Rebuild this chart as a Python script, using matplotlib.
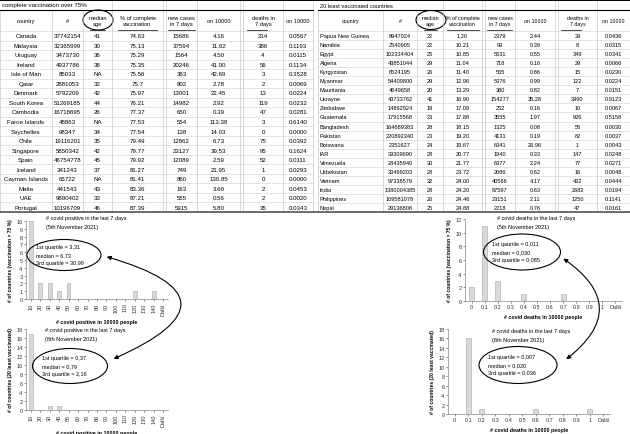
import numpy as np
import matplotlib
matplotlib.use('Agg')
import matplotlib.pyplot as plt
from matplotlib.patches import Ellipse, FancyArrowPatch

plt.rcParams['font.family'] = ['Liberation Sans', 'DejaVu Sans']

W, H = 630, 435

##############  table 1 : complete vaccination over 75%  ##############
vacc_country = ['Canada', 'Malaysia', 'Uruguay', 'Ireland', 'Isle of Man', 'Qatar', 'Denmark',
                'South Korea', 'Cambodia', 'Faroe Islands', 'Seychelles', 'Chile', 'Singapore',
                'Spain', 'Iceland', 'Cayman Islands', 'Malta', 'UAE', 'Portugal']
vacc_pop = ['37742154', '32365999', '3473730', '4937786', '85033', '2881053', '5792209',
            '51269185', '16718695', '48863', '98347', '19116201', '5850342', '46754778',
            '341243', '65722', '441543', '9890402', '10196709']
vacc_age = ['41', '30', '36', '38', 'NA', '32', '42', '44', '26', 'NA', '34', '35', '42', '45',
            '37', 'NA', '43', '33', '46']
vacc_pct = ['74.63', '75.13', '75.29', '75.35', '75.56', '75.7', '75.97', '76.21', '77.37',
            '77.53', '77.54', '79.49', '79.77', '79.92', '81.27', '81.41', '83.36', '87.21', '87.39']
vacc_cases = ['15686', '37594', '1564', '20246', '363', '802', '13001', '14982', '650', '554',
              '138', '12862', '23127', '12089', '749', '860', '163', '555', '5915']
vacc_cases10k = ['4.16', '11.62', '4.50', '41.00', '42.69', '2.78', '22.45', '2.92', '0.39',
                 '113.38', '14.03', '6.73', '39.53', '2.59', '21.95', '130.85', '3.69', '0.56', '5.80']
vacc_deaths = ['214', '386', '4', '56', '3', '2', '13', '119', '47', '3', '0', '75', '95', '52',
               '1', '0', '2', '2', '35']
vacc_deaths10k = ['0.0567', '0.1193', '0.0115', '0.1134', '0.3528', '0.0069', '0.0224', '0.0232',
                  '0.0281', '0.6140', '0.0000', '0.0392', '0.1624', '0.0111', '0.0293', '0.0000',
                  '0.0453', '0.0020', '0.0343']

##############  table 2 : 20 least vaccinated countries  ##############
least_country = ['Papua New Guinea', 'Namibia', 'Egypt', 'Algeria', 'Kyrgyzstan', 'Myanmar',
                 'Mauritania', 'Ukrayne', 'Zimbabwe', 'Guatemala', 'Bangladesh', 'Pakistan',
                 'Botswana', 'IAR', 'Venezuela', 'Uzbekistan', 'Vietnam', 'India', 'Philippines', 'Nepal']
least_pop = ['8947024', '2540905', '102334404', '43851044', '6524195', '54409800', '4649658',
             '43733762', '14862924', '17915568', '164689383', '220892340', '2351627', '39309690',
             '28435940', '33469203', '97338579', '1380004385', '109581078', '29136808']
least_age = ['22', '22', '25', '29', '26', '29', '20', '41', '19', '23', '28', '23', '24', '28',
             '30', '28', '32', '28', '26', '25']
least_pct = ['1.20', '10.21', '10.85', '11.04', '11.40', '12.96', '13.29', '16.90', '17.09',
             '17.88', '18.15', '19.20', '19.67', '20.77', '21.77', '23.72', '24.00', '24.20',
             '24.46', '24.88']
least_cases = ['2379', '99', '5631', '718', '565', '5376', '380', '154277', '252', '3555', '1325',
               '4131', '6341', '1940', '6377', '2086', '40566', '87597', '23151', '2218']
least_cases10k = ['2.44', '0.39', '0.55', '0.16', '0.86', '0.99', '0.82', '35.28', '0.16', '1.97',
                  '0.08', '0.19', '26.96', '0.33', '2.24', '0.62', '4.17', '0.63', '2.11', '0.76']
least_deaths = ['39', '8', '349', '29', '15', '122', '7', '3990', '10', '926', '55', '82', '1',
                '147', '77', '16', '432', '2682', '1250', '47']
least_deaths10k = ['0.0436', '0.0315', '0.0341', '0.0066', '0.0230', '0.0224', '0.0151', '0.9123',
                   '0.0067', '0.5158', '0.0030', '0.0037', '0.0043', '0.0248', '0.0271', '0.0048',
                   '0.0444', '0.0194', '0.1141', '0.0161']

##############  histograms  ##############
pos_bins = ['10', '20', '30', '40', '50', '60', '70', '80', '90', '100', '110', '120', '130', '140', 'Další']
pos_5nov = [10, 2, 2, 1, 2, 0, 0, 0, 0, 0, 0, 1, 0, 1, 0]
pos_8nov = [17, 0, 1, 1, 0, 0, 0, 0, 0, 0, 0, 0, 0, 0, 0]
death_bins = ['0', '0.1', '0.2', '0.3', '0.4', '0.5', '0.6', '0.7', '0.8', '0.9', '1', 'Další']
death_5nov = [2, 11, 3, 0, 1, 0, 0, 1, 0, 0, 0, 0]
death_8nov = [0, 16, 1, 0, 0, 0, 1, 0, 0, 0, 1, 0]

headers = ['country', '#', 'median\nage', '% of complete\nvaccination', 'new cases\nin 7 days',
           'on 10000', 'deaths in\n7 days', 'on 10000']


fig = plt.figure(figsize=(6.3, 4.35), dpi=100)


def px_axes(x0, x1, y0, y1, **kw):
    return fig.add_axes([x0 / W, 1 - y1 / H, (x1 - x0) / W, (y1 - y0) / H], **kw)


def histogram(box, cats, vals, ymax, ystep, rot, ylabel, xlabel):
    ax = px_axes(*box)
    x = np.arange(len(cats))
    ax.bar(x, vals, width=0.4, color='#d9d9d9', edgecolor='#a8a8a8', lw=0.4)
    ax.set_xlim(-0.5, len(cats) - 0.5)
    ax.set_ylim(0, ymax)
    ax.set_yticks(np.arange(0, ymax + 1, ystep))
    ax.set_xticks(x)
    ax.set_xticklabels(cats, rotation=rot)
    for s in ['top', 'right']:
        ax.spines[s].set_visible(False)
    for s in ['left', 'bottom']:
        ax.spines[s].set_color('#868686')
        ax.spines[s].set_linewidth(0.5)
    ax.tick_params(labelsize=4, length=1.5, width=0.4, pad=1, colors='#333333')
    ax.set_ylabel(ylabel, fontsize=3.6, fontweight='bold', labelpad=2)
    ax.set_xlabel(xlabel, fontsize=3.8, fontweight='bold', labelpad=3)
    ax.patch.set_alpha(0)
    return ax


histogram((26, 168, 222, 300), pos_bins, pos_5nov, 10, 1, 90,
          '# of countries (vaccination > 75 %)', '# covid positive in 10000 people')
histogram((26, 168, 330, 411), pos_bins, pos_8nov, 18, 2, 90,
          '# of countries (20 least vaccinated)', '# covid positive in 10000 people')
histogram((465, 622, 220, 302), death_bins, death_5nov, 12, 2, 0,
          '# of countries (vaccination > 75 %)', '# covid deaths in 10000 people')
histogram((448, 610, 330, 415), death_bins, death_8nov, 18, 2, 0,
          '# of countries (20 least vaccinated)', '# covid deaths in 10000 people')

################## overlay : tables, notes, arrows ###################
ax0 = fig.add_axes([0, 0, 1, 1], zorder=10)
ax0.set_xlim(0, W)
ax0.set_ylim(H, 0)
ax0.axis('off')
ax0.patch.set_alpha(0)

grid = '#cfcfcf'


def draw_table(bounds, centers, title, cols, row_h, fs, left_align_country):
    x0, x1 = bounds[0], bounds[-1]
    nrow = len(cols[0])
    top = 32
    # rows
    for i in range(nrow + 1):
        y = top + i * row_h
        ax0.plot([x0, x1], [y, y], color=grid, lw=0.4)
    # vertical lines
    for b in bounds:
        ystart = 11 if b < x0 + 100 else 1
        ax0.plot([b, b], [ystart, 213], color='#bdbdbd', lw=0.4)
    ax0.plot([x0, x1], [11, 11], color='black', lw=0.8)
    ax0.text(x0 + 2, 6, title, fontsize=fs, va='center', ha='left')
    for j, h in enumerate(headers):
        ax0.text(centers[j], 21.5, h, fontsize=fs - 0.3, ha='center', va='center', linespacing=1.4)
    for j, col in enumerate(cols):
        for i, v in enumerate(col):
            y = top + (i + 0.5) * row_h
            if j == 0 and left_align_country:
                ax0.text(x0 + 2, y, v, fontsize=fs, ha='left', va='center')
            else:
                ax0.text(centers[j], y, v, fontsize=fs, ha='center', va='center')


left_bounds = [0, 52, 83, 112, 163, 166, 197, 240, 243, 283, 313]
left_centers = [26, 67.5, 97.5, 137.5, 181.5, 218.5, 263, 298]
draw_table(left_bounds, left_centers, 'complete vaccination over 75%',
           [vacc_country, vacc_pop, vacc_age, vacc_pct, vacc_cases, vacc_cases10k, vacc_deaths, vacc_deaths10k],
           (213 - 32) / len(vacc_country), 4.4, False)

right_bounds = [318, 383, 417, 443, 482, 485, 515, 555, 558, 597, 630]
right_centers = [350, 400, 430, 462.5, 500, 535, 577.5, 613.5]
draw_table(right_bounds, right_centers, '20 least vaccinated countries',
           [least_country, least_pop, least_age, least_pct, least_cases, least_cases10k, least_deaths, least_deaths10k],
           (213 - 32) / len(least_country), 4.1, True)

# header underlines
for a, b in [(90, 105), (118, 157), (168, 195), (247, 267), (424, 437), (447, 479), (487, 512), (561, 581)]:
    ax0.plot([a, b], [30.5, 30.5], color='black', lw=0.5)

ax0.plot([0, W], [0.8, 0.8], color='black', lw=1.4)
ax0.plot([0, W], [213, 213], color='#555555', lw=1.2)

# median age circles
ax0.add_patch(Ellipse((98, 21), 30, 20, fill=False, lw=0.8, color='black'))
ax0.add_patch(Ellipse((431, 21), 30, 19, fill=False, lw=0.8, color='black'))

# histogram notes
notes = [
    ((46, 219), ['# covid positive in the last 7 days', '(5th November 2021)'],
     (64, 256, 74, 31), ['1st quartile = 3,31', 'median = 6,73', '3rd quartile = 30,99']),
    ((45, 331), ['# covid positive in the last 7 days', '(8th November 2021)'],
     (70, 367, 75, 35), ['1st quartile = 0,37', 'median = 0,79', '3rd quartile = 2,16']),
    ((497, 219), ['# covid deaths in the last 7 days', '(5th November 2021)'],
     (522, 253, 77, 36), ['1st qaurtile = 0,011', 'median = 0,030', '3rd quartile = 0,085']),
    ((492, 332), ['# covid deaths in the last 7 days', '(8th November 2021)'],
     (518, 366, 78, 37), ['1st quartile = 0,007', 'median = 0,020', '3rd quartile = 0,036']),
]
for (tx, ty), tlines, (ex, ey, ew, eh), qlines in notes:
    for k, t in enumerate(tlines):
        ax0.text(tx, ty + 8.5 * k, t, fontsize=4, ha='left', va='center')
    ax0.add_patch(Ellipse((ex, ey), ew, eh, fill=False, lw=0.8, color='black'))
    for k, t in enumerate(qlines):
        ax0.text(ex - ew / 2 + 9, ey - 8 + 8 * k, t, fontsize=4, ha='left', va='center')

# linking arrows
ax0.add_patch(FancyArrowPatch((104, 257), (111, 361), connectionstyle='arc3,rad=-1.4',
                              arrowstyle='<|-|>', mutation_scale=6, lw=0.8, color='black'))
ax0.add_patch(FancyArrowPatch((561, 258), (564, 362), connectionstyle='arc3,rad=-0.7',
                              arrowstyle='<|-|>', mutation_scale=6, lw=0.8, color='black'))

plt.savefig('out.png', dpi=100)
